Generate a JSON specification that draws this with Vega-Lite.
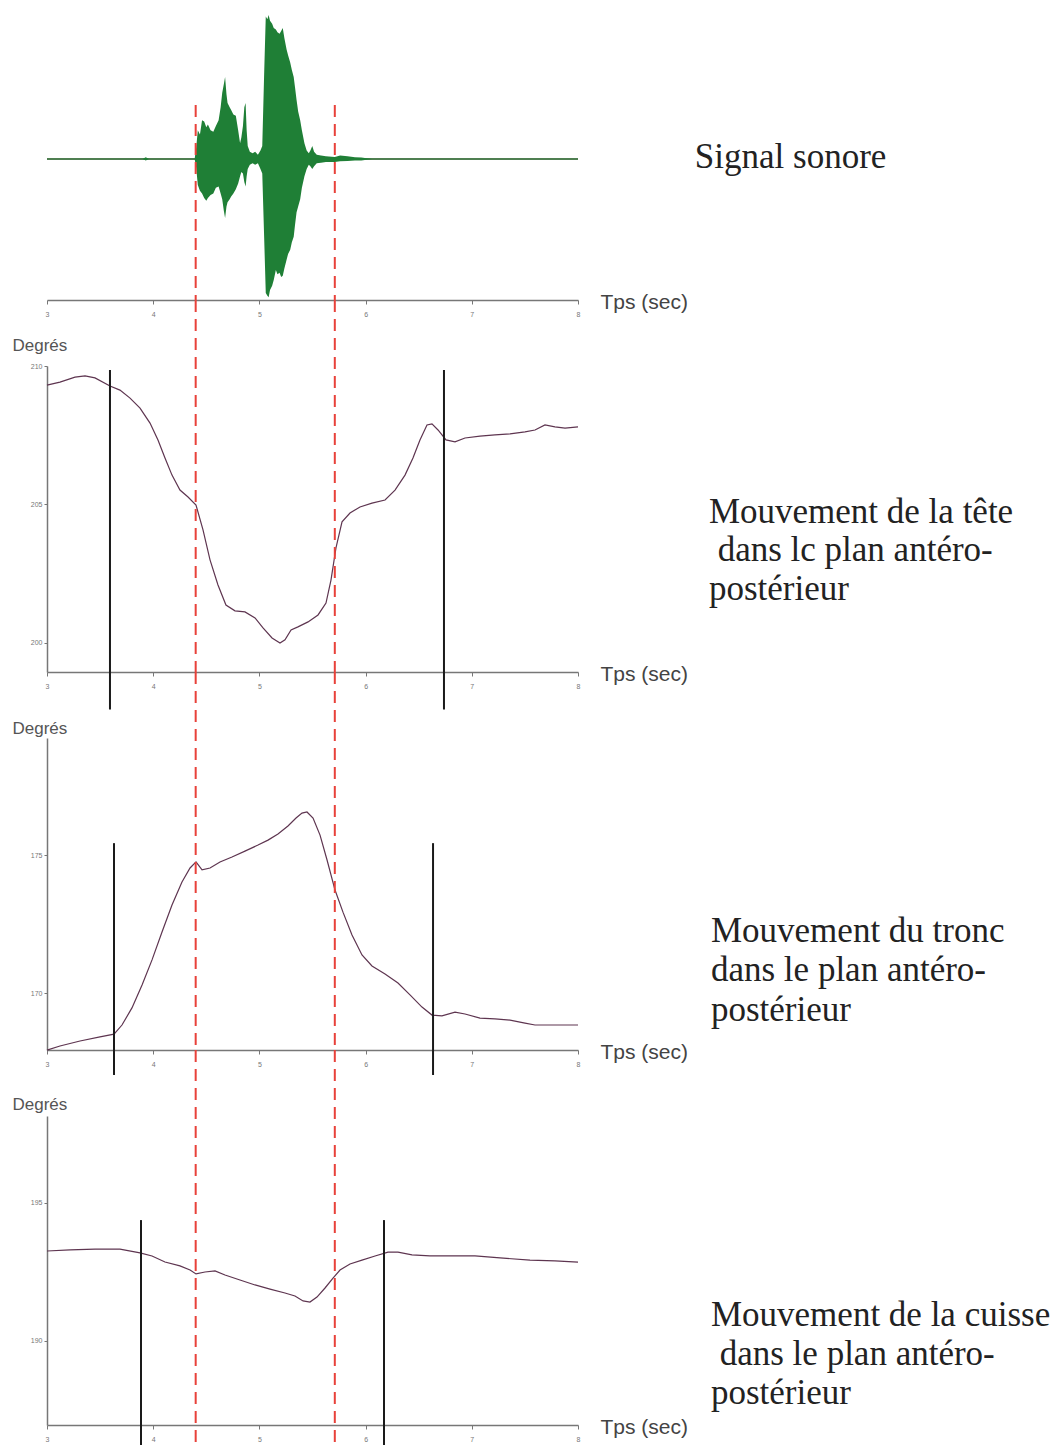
{
  "$schema": "https://vega.github.io/schema/vega-lite/v6.json",
  "background": "white",
  "padding": {"left": 12, "top": 10, "right": 5, "bottom": 0},
  "bounds": "flush",
  "spacing": 66,
  "config": {
    "view": {"stroke": null},
    "axis": {
      "grid": false,
      "labelFont": "Liberation Sans",
      "labelFontSize": 7,
      "labelColor": "#777777",
      "labelFlush": false,
      "domainColor": "#777777",
      "domainWidth": 1.5,
      "tickColor": "#777777",
      "tickSize": 4,
      "titleFont": "Liberation Sans",
      "titleFontWeight": "normal"
    },
    "text": {"font": "Liberation Serif", "fontSize": 35, "color": "#222222", "align": "left", "baseline": "middle"}
  },
  "datasets": {
    "sound": [
      {"t": 3.0, "hi": 0, "lo": 0},
      {"t": 3.9, "hi": 0, "lo": 0},
      {"t": 3.93, "hi": 0.012, "lo": -0.01},
      {"t": 3.96, "hi": 0, "lo": 0},
      {"t": 4.39, "hi": 0, "lo": 0},
      {"t": 4.405, "hi": 0.08, "lo": -0.06},
      {"t": 4.42, "hi": 0.2, "lo": -0.18},
      {"t": 4.44, "hi": 0.17, "lo": -0.22},
      {"t": 4.46, "hi": 0.27, "lo": -0.24},
      {"t": 4.48, "hi": 0.26, "lo": -0.27},
      {"t": 4.5, "hi": 0.22, "lo": -0.29},
      {"t": 4.515, "hi": 0.24, "lo": -0.27},
      {"t": 4.54, "hi": 0.2, "lo": -0.25},
      {"t": 4.566, "hi": 0.19, "lo": -0.24},
      {"t": 4.59, "hi": 0.23, "lo": -0.2},
      {"t": 4.616, "hi": 0.27, "lo": -0.19},
      {"t": 4.635, "hi": 0.36, "lo": -0.24},
      {"t": 4.65, "hi": 0.46, "lo": -0.28},
      {"t": 4.665, "hi": 0.52, "lo": -0.36},
      {"t": 4.677, "hi": 0.57, "lo": -0.41},
      {"t": 4.69, "hi": 0.45, "lo": -0.33},
      {"t": 4.7, "hi": 0.39, "lo": -0.3},
      {"t": 4.72, "hi": 0.36, "lo": -0.28},
      {"t": 4.734, "hi": 0.34, "lo": -0.26},
      {"t": 4.755, "hi": 0.31, "lo": -0.24},
      {"t": 4.778, "hi": 0.3, "lo": -0.21},
      {"t": 4.8, "hi": 0.2, "lo": -0.17},
      {"t": 4.818, "hi": 0.11, "lo": -0.12},
      {"t": 4.83, "hi": 0.15, "lo": -0.09},
      {"t": 4.845, "hi": 0.23, "lo": -0.1},
      {"t": 4.858, "hi": 0.36, "lo": -0.16},
      {"t": 4.87, "hi": 0.39, "lo": -0.19},
      {"t": 4.88, "hi": 0.2, "lo": -0.12},
      {"t": 4.89, "hi": 0.09, "lo": -0.07},
      {"t": 4.91, "hi": 0.05, "lo": -0.04},
      {"t": 4.936, "hi": 0.04, "lo": -0.03},
      {"t": 4.96, "hi": 0.05, "lo": -0.04},
      {"t": 4.986, "hi": 0.03, "lo": -0.03},
      {"t": 5.01, "hi": 0.06, "lo": -0.07},
      {"t": 5.027, "hi": 0.09, "lo": -0.1},
      {"t": 5.045, "hi": 0.6, "lo": -0.55},
      {"t": 5.06, "hi": 0.99, "lo": -0.93},
      {"t": 5.075, "hi": 0.97, "lo": -0.95},
      {"t": 5.087, "hi": 1.0, "lo": -0.96},
      {"t": 5.1, "hi": 0.96, "lo": -0.91},
      {"t": 5.12, "hi": 0.94, "lo": -0.88},
      {"t": 5.135, "hi": 0.91, "lo": -0.84},
      {"t": 5.155, "hi": 0.9, "lo": -0.77},
      {"t": 5.17, "hi": 0.88, "lo": -0.8},
      {"t": 5.19, "hi": 0.87, "lo": -0.79},
      {"t": 5.205, "hi": 0.89, "lo": -0.82},
      {"t": 5.22, "hi": 0.91, "lo": -0.81},
      {"t": 5.235, "hi": 0.84, "lo": -0.76},
      {"t": 5.256, "hi": 0.76, "lo": -0.7},
      {"t": 5.27, "hi": 0.72, "lo": -0.66},
      {"t": 5.29, "hi": 0.67, "lo": -0.63},
      {"t": 5.305, "hi": 0.62, "lo": -0.58},
      {"t": 5.323, "hi": 0.57, "lo": -0.54},
      {"t": 5.335, "hi": 0.5, "lo": -0.46},
      {"t": 5.35, "hi": 0.41, "lo": -0.37},
      {"t": 5.365, "hi": 0.33, "lo": -0.33},
      {"t": 5.384, "hi": 0.27, "lo": -0.28},
      {"t": 5.4, "hi": 0.2, "lo": -0.2},
      {"t": 5.424, "hi": 0.11, "lo": -0.12},
      {"t": 5.445, "hi": 0.06, "lo": -0.07},
      {"t": 5.465, "hi": 0.04, "lo": -0.04},
      {"t": 5.48, "hi": 0.06, "lo": -0.05},
      {"t": 5.498, "hi": 0.09, "lo": -0.07},
      {"t": 5.515, "hi": 0.05, "lo": -0.05},
      {"t": 5.54, "hi": 0.03, "lo": -0.03},
      {"t": 5.58, "hi": 0.025, "lo": -0.025},
      {"t": 5.626, "hi": 0.02, "lo": -0.02},
      {"t": 5.71, "hi": 0.014, "lo": -0.02},
      {"t": 5.76, "hi": 0.025, "lo": -0.015},
      {"t": 5.83, "hi": 0.02, "lo": -0.014},
      {"t": 5.9, "hi": 0.012, "lo": -0.01},
      {"t": 5.96, "hi": 0.01, "lo": -0.01},
      {"t": 6.06, "hi": 0, "lo": 0},
      {"t": 8.0, "hi": 0, "lo": 0}
    ],
    "head": [
      {"t": 3.0, "deg": 209.31}, {"t": 3.122, "deg": 209.42}, {"t": 3.264, "deg": 209.6},
      {"t": 3.358, "deg": 209.64}, {"t": 3.452, "deg": 209.57}, {"t": 3.593, "deg": 209.28},
      {"t": 3.687, "deg": 209.13}, {"t": 3.782, "deg": 208.84}, {"t": 3.876, "deg": 208.48},
      {"t": 3.97, "deg": 207.94}, {"t": 4.045, "deg": 207.33}, {"t": 4.111, "deg": 206.68},
      {"t": 4.177, "deg": 206.06}, {"t": 4.252, "deg": 205.52}, {"t": 4.328, "deg": 205.27},
      {"t": 4.403, "deg": 204.98}, {"t": 4.469, "deg": 204.08}, {"t": 4.535, "deg": 203.0},
      {"t": 4.61, "deg": 202.09}, {"t": 4.685, "deg": 201.37}, {"t": 4.77, "deg": 201.16},
      {"t": 4.864, "deg": 201.12}, {"t": 4.959, "deg": 200.9}, {"t": 5.034, "deg": 200.54},
      {"t": 5.119, "deg": 200.18}, {"t": 5.194, "deg": 200.0}, {"t": 5.241, "deg": 200.11},
      {"t": 5.298, "deg": 200.47}, {"t": 5.363, "deg": 200.58}, {"t": 5.458, "deg": 200.76},
      {"t": 5.552, "deg": 201.01}, {"t": 5.627, "deg": 201.44}, {"t": 5.674, "deg": 202.27},
      {"t": 5.721, "deg": 203.43}, {"t": 5.778, "deg": 204.37}, {"t": 5.853, "deg": 204.69},
      {"t": 5.947, "deg": 204.91}, {"t": 6.06, "deg": 205.05}, {"t": 6.183, "deg": 205.16},
      {"t": 6.277, "deg": 205.52}, {"t": 6.371, "deg": 206.06}, {"t": 6.446, "deg": 206.68},
      {"t": 6.512, "deg": 207.33}, {"t": 6.578, "deg": 207.87}, {"t": 6.625, "deg": 207.91},
      {"t": 6.682, "deg": 207.69}, {"t": 6.757, "deg": 207.33}, {"t": 6.842, "deg": 207.26},
      {"t": 6.936, "deg": 207.4}, {"t": 7.077, "deg": 207.47}, {"t": 7.218, "deg": 207.51},
      {"t": 7.36, "deg": 207.55}, {"t": 7.501, "deg": 207.62}, {"t": 7.595, "deg": 207.69},
      {"t": 7.689, "deg": 207.87}, {"t": 7.783, "deg": 207.8}, {"t": 7.878, "deg": 207.76},
      {"t": 8.0, "deg": 207.8}
    ],
    "trunk": [
      {"t": 3.0, "deg": 167.93}, {"t": 3.122, "deg": 168.08}, {"t": 3.311, "deg": 168.26},
      {"t": 3.499, "deg": 168.41}, {"t": 3.631, "deg": 168.51}, {"t": 3.706, "deg": 168.84},
      {"t": 3.8, "deg": 169.46}, {"t": 3.895, "deg": 170.29}, {"t": 3.989, "deg": 171.2},
      {"t": 4.083, "deg": 172.21}, {"t": 4.177, "deg": 173.19}, {"t": 4.271, "deg": 174.02},
      {"t": 4.347, "deg": 174.53}, {"t": 4.403, "deg": 174.75}, {"t": 4.46, "deg": 174.46},
      {"t": 4.535, "deg": 174.53}, {"t": 4.629, "deg": 174.75}, {"t": 4.742, "deg": 174.93},
      {"t": 4.864, "deg": 175.14}, {"t": 4.987, "deg": 175.36}, {"t": 5.081, "deg": 175.54},
      {"t": 5.175, "deg": 175.76}, {"t": 5.269, "deg": 176.05}, {"t": 5.345, "deg": 176.34},
      {"t": 5.401, "deg": 176.52}, {"t": 5.448, "deg": 176.56}, {"t": 5.505, "deg": 176.34},
      {"t": 5.571, "deg": 175.72}, {"t": 5.637, "deg": 174.82}, {"t": 5.712, "deg": 173.73},
      {"t": 5.787, "deg": 172.93}, {"t": 5.872, "deg": 172.1}, {"t": 5.966, "deg": 171.38},
      {"t": 6.06, "deg": 170.98}, {"t": 6.183, "deg": 170.69}, {"t": 6.305, "deg": 170.36},
      {"t": 6.418, "deg": 169.93}, {"t": 6.531, "deg": 169.49}, {"t": 6.625, "deg": 169.2},
      {"t": 6.719, "deg": 169.17}, {"t": 6.842, "deg": 169.31}, {"t": 6.936, "deg": 169.24},
      {"t": 7.077, "deg": 169.09}, {"t": 7.218, "deg": 169.06}, {"t": 7.36, "deg": 169.02},
      {"t": 7.501, "deg": 168.91}, {"t": 7.595, "deg": 168.84}, {"t": 7.736, "deg": 168.84},
      {"t": 8.0, "deg": 168.84}
    ],
    "thigh": [
      {"t": 3.0, "deg": 193.26}, {"t": 3.217, "deg": 193.3}, {"t": 3.452, "deg": 193.33},
      {"t": 3.687, "deg": 193.33}, {"t": 3.876, "deg": 193.19}, {"t": 3.989, "deg": 193.08},
      {"t": 4.111, "deg": 192.86}, {"t": 4.252, "deg": 192.72}, {"t": 4.347, "deg": 192.57},
      {"t": 4.403, "deg": 192.43}, {"t": 4.488, "deg": 192.5}, {"t": 4.582, "deg": 192.54},
      {"t": 4.676, "deg": 192.39}, {"t": 4.817, "deg": 192.21}, {"t": 4.959, "deg": 192.03},
      {"t": 5.1, "deg": 191.88}, {"t": 5.241, "deg": 191.74}, {"t": 5.335, "deg": 191.63},
      {"t": 5.411, "deg": 191.45}, {"t": 5.476, "deg": 191.41}, {"t": 5.542, "deg": 191.59},
      {"t": 5.618, "deg": 191.92}, {"t": 5.693, "deg": 192.28}, {"t": 5.759, "deg": 192.57},
      {"t": 5.853, "deg": 192.79}, {"t": 5.966, "deg": 192.93}, {"t": 6.089, "deg": 193.08},
      {"t": 6.211, "deg": 193.22}, {"t": 6.305, "deg": 193.22}, {"t": 6.437, "deg": 193.12},
      {"t": 6.606, "deg": 193.08}, {"t": 6.795, "deg": 193.08}, {"t": 7.03, "deg": 193.08},
      {"t": 7.266, "deg": 193.01}, {"t": 7.548, "deg": 192.93}, {"t": 7.783, "deg": 192.9},
      {"t": 8.0, "deg": 192.86}
    ],
    "speech": [{"t": 4.4}, {"t": 5.71}],
    "headEvents": [{"t": 3.593}, {"t": 6.738}],
    "trunkEvents": [{"t": 3.631}, {"t": 6.635}],
    "thighEvents": [{"t": 3.885}, {"t": 6.173}],
    "soundLabel": [{"k": 0, "line": "Signal sonore"}],
    "headLabel": [
      {"k": 0, "line": "Mouvement de la tête"},
      {"k": 1, "line": "\u200b\u00a0dans lc plan antéro-"},
      {"k": 2, "line": "postérieur"}
    ],
    "trunkLabel": [
      {"k": 0, "line": "Mouvement du tronc"},
      {"k": 1, "line": "dans le plan antéro-"},
      {"k": 2, "line": "postérieur"}
    ],
    "thighLabel": [
      {"k": 0, "line": "Mouvement de la cuisse"},
      {"k": 1, "line": "\u200b\u00a0dans le plan antéro-"},
      {"k": 2, "line": "postérieur"}
    ]
  },
  "vconcat": [
    {
      "width": 531,
      "height": 290,
      "resolve": {"scale": {"y": "independent"}},
      "layer": [
        {
          "encoding": {
            "x": {
              "field": "t", "type": "quantitative",
              "scale": {"domain": [3, 8], "nice": false, "zero": false},
              "axis": {"values": [3, 4, 5, 6, 7, 8], "format": "d", "labelPadding": 6, "title": "Tps (sec)", "titleX": 553, "titleY": 2, "titleAlign": "left", "titleBaseline": "middle", "titleFontSize": 21, "titleColor": "#444444"}
            }
          },
          "layer": [
            {
              "data": {"name": "sound"},
              "mark": {"type": "rule", "color": "#4f7f52", "strokeWidth": 1.5},
              "encoding": {
                "x": {"value": 0},
                "x2": {"value": 531},
                "y": {"datum": 0, "type": "quantitative", "scale": {"domain": [-0.979, 1.035], "nice": false, "zero": false}, "axis": null}
              }
            },
            {
              "data": {"name": "sound"},
              "mark": {"type": "area", "color": "#1f7f36", "opacity": 1},
              "encoding": {
                "y": {"field": "hi", "type": "quantitative"},
                "y2": {"field": "lo"}
              }
            },
            {
              "data": {"name": "speech"},
              "mark": {"type": "rule", "color": "#e8413a", "strokeWidth": 2, "strokeDash": [12, 7]},
              "encoding": {
                "y": {"datum": 0.375},
                "y2": {"datum": -0.979}
              }
            }
          ]
        },
        {
          "data": {"name": "soundLabel"},
          "mark": {"type": "text"},
          "encoding": {
            "x": {"datum": 9.1, "type": "quantitative"},
            "y": {"field": "k", "type": "quantitative", "scale": {"domain": [-3.769, 3.667], "reverse": true, "nice": false, "zero": false}, "axis": null},
            "text": {"field": "line"}
          }
        }
      ]
    },
    {
      "width": 531,
      "height": 306,
      "resolve": {"scale": {"y": "independent"}},
      "layer": [
        {
          "encoding": {
            "x": {
              "field": "t", "type": "quantitative",
              "scale": {"domain": [3, 8], "nice": false, "zero": false},
              "axis": {"values": [3, 4, 5, 6, 7, 8], "format": "d", "labelPadding": 6, "title": "Tps (sec)", "titleX": 553, "titleY": 2, "titleAlign": "left", "titleBaseline": "middle", "titleFontSize": 21, "titleColor": "#444444"}
            }
          },
          "layer": [
            {
              "data": {"name": "head"},
              "mark": {"type": "line", "color": "#5e3550", "strokeWidth": 1.2},
              "encoding": {
                "y": {
                  "field": "deg", "type": "quantitative",
                  "scale": {"domain": [198.95, 210], "nice": false, "zero": false},
                  "axis": {"values": [200, 205, 210], "tickSize": 3, "labelPadding": 2, "title": "Degrés", "titleAngle": 0, "titleAlign": "left", "titleBaseline": "middle", "titleX": -35, "titleY": -21, "titleFontSize": 17, "titleColor": "#555555"}
                }
              }
            },
            {
              "data": {"name": "headEvents"},
              "mark": {"type": "rule", "color": "#1a1a1a", "strokeWidth": 2},
              "encoding": {"y": {"datum": 209.86}, "y2": {"datum": 197.6}}
            },
            {
              "data": {"name": "speech"},
              "mark": {"type": "rule", "color": "#e8413a", "strokeWidth": 2, "strokeDash": [12, 7]},
              "encoding": {"y": {"datum": 212.38}, "y2": {"datum": 198.95}}
            }
          ]
        },
        {
          "data": {"name": "headLabel"},
          "mark": {"type": "text"},
          "encoding": {
            "x": {"datum": 9.233, "type": "quantitative"},
            "y": {"field": "k", "type": "quantitative", "scale": {"domain": [-3.792, 4.156], "reverse": true, "nice": false, "zero": false}, "axis": null},
            "text": {"field": "line"}
          }
        }
      ]
    },
    {
      "width": 531,
      "height": 312,
      "resolve": {"scale": {"y": "independent"}},
      "layer": [
        {
          "encoding": {
            "x": {
              "field": "t", "type": "quantitative",
              "scale": {"domain": [3, 8], "nice": false, "zero": false},
              "axis": {"values": [3, 4, 5, 6, 7, 8], "format": "d", "labelPadding": 6, "title": "Tps (sec)", "titleX": 553, "titleY": 2, "titleAlign": "left", "titleBaseline": "middle", "titleFontSize": 21, "titleColor": "#444444"}
            }
          },
          "layer": [
            {
              "data": {"name": "trunk"},
              "mark": {"type": "line", "color": "#5e3550", "strokeWidth": 1.2},
              "encoding": {
                "y": {
                  "field": "deg", "type": "quantitative",
                  "scale": {"domain": [167.935, 179.24], "nice": false, "zero": false},
                  "axis": {"values": [170, 175], "tickSize": 3, "labelPadding": 2, "title": "Degrés", "titleAngle": 0, "titleAlign": "left", "titleBaseline": "middle", "titleX": -35, "titleY": -10, "titleFontSize": 17, "titleColor": "#555555"}
                }
              }
            },
            {
              "data": {"name": "trunkEvents"},
              "mark": {"type": "rule", "color": "#1a1a1a", "strokeWidth": 2},
              "encoding": {"y": {"datum": 175.43}, "y2": {"datum": 167.03}}
            },
            {
              "data": {"name": "speech"},
              "mark": {"type": "rule", "color": "#e8413a", "strokeWidth": 2, "strokeDash": [12, 7]},
              "encoding": {"y": {"datum": 181.63}, "y2": {"datum": 167.935}}
            }
          ]
        },
        {
          "data": {"name": "trunkLabel"},
          "mark": {"type": "text"},
          "encoding": {
            "x": {"datum": 9.252, "type": "quantitative"},
            "y": {"field": "k", "type": "quantitative", "scale": {"domain": [-4.886, 3.013], "reverse": true, "nice": false, "zero": false}, "axis": null},
            "text": {"field": "line"}
          }
        }
      ]
    },
    {
      "width": 531,
      "height": 309,
      "resolve": {"scale": {"y": "independent"}},
      "layer": [
        {
          "encoding": {
            "x": {
              "field": "t", "type": "quantitative",
              "scale": {"domain": [3, 8], "nice": false, "zero": false},
              "axis": {"values": [3, 4, 5, 6, 7, 8], "format": "d", "labelPadding": 6, "title": "Tps (sec)", "titleX": 553, "titleY": 2, "titleAlign": "left", "titleBaseline": "middle", "titleFontSize": 21, "titleColor": "#444444"}
            }
          },
          "layer": [
            {
              "data": {"name": "thigh"},
              "mark": {"type": "line", "color": "#5e3550", "strokeWidth": 1.2},
              "encoding": {
                "y": {
                  "field": "deg", "type": "quantitative",
                  "scale": {"domain": [186.957, 198.15], "nice": false, "zero": false},
                  "axis": {"values": [190, 195], "tickSize": 3, "labelPadding": 2, "title": "Degrés", "titleAngle": 0, "titleAlign": "left", "titleBaseline": "middle", "titleX": -35, "titleY": -12, "titleFontSize": 17, "titleColor": "#555555"}
                }
              }
            },
            {
              "data": {"name": "thighEvents"},
              "mark": {"type": "rule", "color": "#1a1a1a", "strokeWidth": 2},
              "encoding": {"y": {"datum": 194.38}, "y2": {"datum": 186.23}}
            },
            {
              "data": {"name": "speech"},
              "mark": {"type": "rule", "color": "#e8413a", "strokeWidth": 2, "strokeDash": [12, 7]},
              "encoding": {"y": {"datum": 200.54}, "y2": {"datum": 186.23}}
            }
          ]
        },
        {
          "data": {"name": "thighLabel"},
          "mark": {"type": "text"},
          "encoding": {
            "x": {"datum": 9.252, "type": "quantitative"},
            "y": {"field": "k", "type": "quantitative", "scale": {"domain": [-5.103, 2.821], "reverse": true, "nice": false, "zero": false}, "axis": null},
            "text": {"field": "line"}
          }
        }
      ]
    }
  ]
}
